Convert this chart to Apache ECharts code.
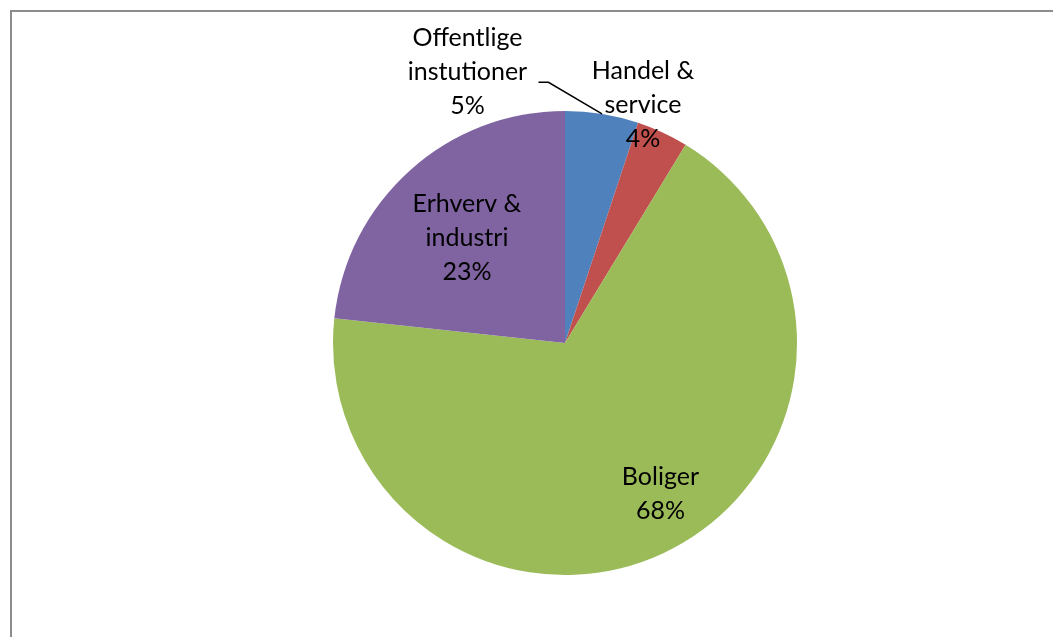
<!DOCTYPE html>
<html>
<head>
<meta charset="utf-8">
<script src="https://cdn.jsdelivr.net/npm/echarts@6/dist/echarts.min.js"></script>
<style>
html,body{margin:0;padding:0;background:#fff;}
#frame{position:absolute;left:10px;top:10px;width:1060px;height:640px;border-left:2px solid #8c8c8c;border-top:2px solid #8c8c8c;box-sizing:border-box;}
#chart{position:absolute;left:0;top:0;width:1053px;height:637px;}
</style>
</head>
<body>
<div id="frame"></div>
<div id="chart"></div>
<script>
const categories = ['Offentlige\ninstutioner', 'Handel &\nservice', 'Boliger', 'Erhverv &\nindustri'];
const values = [5.1, 3.6, 68.0, 23.3];
const colors = ['#4F81BD', '#C0504D', '#9BBB59', '#8064A2'];
// label placement: radial fraction of radius and angle shift (deg) relative to slice mid-angle
const labelRadial = [1.24, 1.08, 0.77, 0.62];
const labelAngleShift = [-29, -6.7, -6, -1];

const CX = 565, CY = 343, R = 232;
const total = values.reduce((a, b) => a + b, 0);
const midAngles = [];
let acc = 0;
values.forEach(v => { midAngles.push((acc + v / 2) / total * 360); acc += v; });

function labelPos(i) {
  const a = (midAngles[i] + labelAngleShift[i]) * Math.PI / 180;
  const d = labelRadial[i] * R;
  return [CX + d * Math.sin(a), CY - d * Math.cos(a)];
}

// leader line for the first (outside) label: from slice edge at mid-angle to right of label's 2nd line
const edgeA = midAngles[0] * Math.PI / 180;
const edgePt = [CX + R * Math.sin(edgeA), CY - R * Math.cos(edgeA)];
const lp0 = labelPos(0);
const leaderPts = [edgePt, [lp0[0] + 81, lp0[1] + 10], [lp0[0] + 71, lp0[1] + 10]];

const chart = echarts.init(document.getElementById('chart'), null, {renderer: 'canvas'});
chart.setOption({
  animation: false,
  color: colors,
  graphic: [{
    type: 'polyline',
    z: 100,
    shape: {points: leaderPts},
    style: {stroke: '#000', lineWidth: 1.5, fill: null}
  }],
  series: [{
    type: 'pie',
    center: [CX, CY],
    radius: [0, R],
    startAngle: 90,
    clockwise: true,
    avoidLabelOverlap: false,
    itemStyle: {borderWidth: 0},
    label: {
      show: true,
      position: 'inside',
      formatter: p => p.name + '\n' + Math.round(p.percent) + '%',
      fontFamily: 'Lato, "Open Sans", sans-serif',
      fontSize: 25,
      lineHeight: 34,
      color: '#000',
      align: 'center'
    },
    labelLine: {show: false},
    labelLayout: function (params) {
      const p = labelPos(params.dataIndex);
      return {x: p[0], y: p[1], align: 'center', verticalAlign: 'middle'};
    },
    data: categories.map((c, i) => ({name: c, value: values[i]}))
  }]
});
</script>
</body>
</html>
